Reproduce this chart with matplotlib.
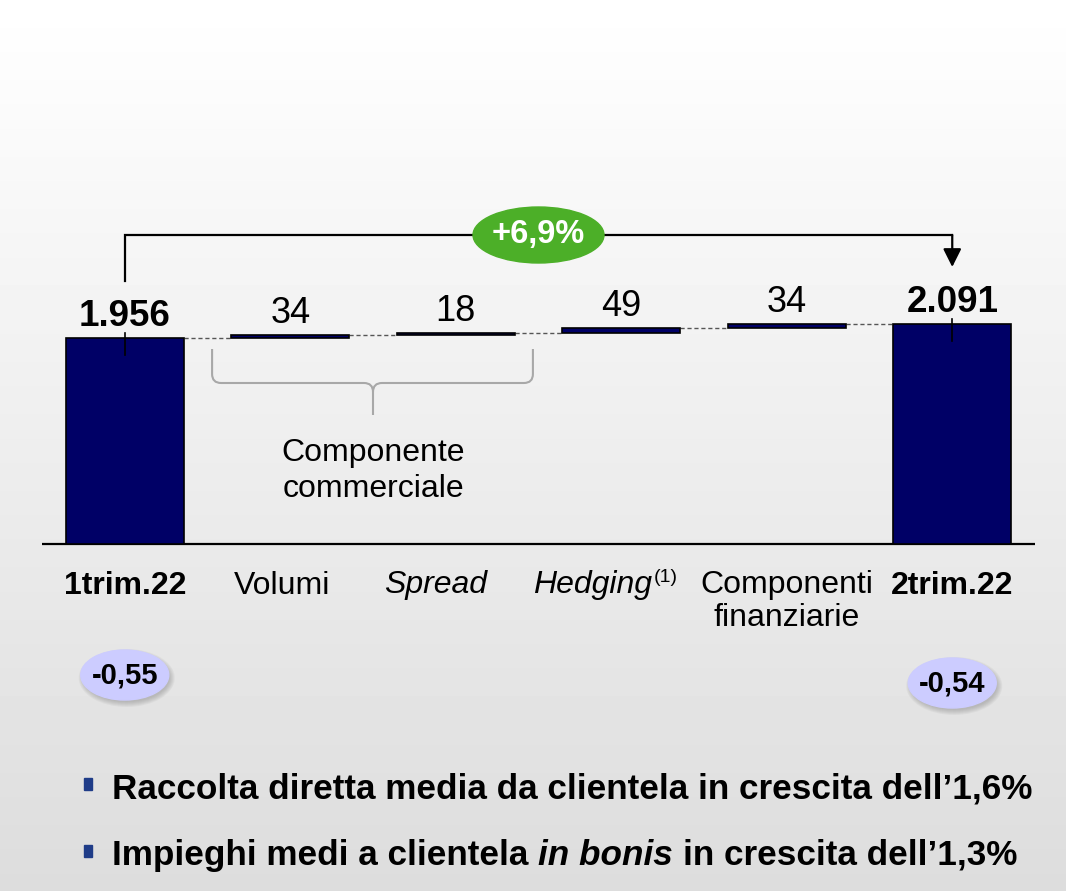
import numpy as np
import matplotlib
matplotlib.use("Agg")
import matplotlib.pyplot as plt
from matplotlib.patches import Ellipse, PathPatch, Rectangle
from matplotlib.path import Path

plt.rcParams["font.family"] = ["Liberation Sans", "DejaVu Sans"]

# ---- data ----
categories = ["1trim.22", "Volumi", "Spread", "Hedging", "Componenti\nfinanziarie", "2trim.22"]
values = [1956, 34, 18, 49, 34, 2091]
value_labels = ["1.956", "34", "18", "49", "34", "2.091"]
totals = [True, False, False, False, False, True]
growth_label = "+6,9%"
rate_labels = ["-0,55", "-0,54"]
group_label = "Componente\ncommerciale"
footnote_mark = "(1)"
bullet_1 = "Raccolta diretta media da clientela in crescita dell\u20191,6%"
bullet_2 = [("Impieghi medi a clientela", "normal"),
            ("in bonis", "italic"),
            ("in crescita dell\u20191,3%", "normal")]

# ---- layout / style ----
W, H = 1066, 891
NAVY = "#000066"
BASE_PX = 543.5          # pixel row of the zero line
KY = 0.105               # pixels per unit
KX = (1035 - 42) / 6.0   # pixels per category
BAR_W = 0.715
cat_nudge = [0, -8, -20, -29, 0, 0]
cat_weight = ["bold", "normal", "normal", "normal", "normal", "bold"]
cat_style = ["normal", "normal", "italic", "italic", "normal", "normal"]
rate_y_px = [675, 683]


def dy(px):
    return px / KY


def dx(px):
    return px / KX


fig = plt.figure(figsize=(W / 100, H / 100), dpi=100)

# background gradient (pixel coordinates)
bg = fig.add_axes([0, 0, 1, 1])
bg.set_xlim(0, W)
bg.set_ylim(H, 0)
bg.axis("off")
grad = np.linspace(1.0, 0.865, 256).reshape(-1, 1)
bg.imshow(grad, cmap="gray", vmin=0, vmax=1, extent=(0, W, H, 0), aspect="auto")

# main chart axes
ax = fig.add_axes([42 / W, 0, (1035 - 42) / W, 1])
ax.set_xlim(-0.5, 5.5)
ax.set_ylim(-(H - BASE_PX) / KY, BASE_PX / KY)
ax.patch.set_visible(False)
for s in ax.spines.values():
    s.set_visible(False)
ax.set_xticks([])
ax.set_yticks([])
ax.axhline(0, color="black", lw=1.6, zorder=2)

x = np.arange(len(values))
bottoms, tops = [], []
level = 0
for v, tot in zip(values, totals):
    if tot:
        b = 0
        level = v
    else:
        b = level
        level += v
    bottoms.append(b)
    tops.append(b + v)
heights = np.array(tops) - np.array(bottoms)
ax.bar(x, heights, bottom=bottoms, width=BAR_W, color=NAVY,
       edgecolor="black", lw=1.2, zorder=3)

# dashed connectors
for i in range(len(values) - 1):
    ax.plot([i + BAR_W / 2, i + 1 - BAR_W / 2], [tops[i], tops[i]],
            ls=(0, (3, 2)), color="#555555", lw=1, zorder=2)

# value labels
for i, lbl in enumerate(value_labels):
    ax.annotate(lbl, (i, tops[i]), xytext=(0, 12), textcoords="offset pixels",
                ha="center", va="baseline", fontsize=26.5 if totals[i] else 26,
                fontweight="bold" if totals[i] else "normal", zorder=6)
    if totals[i]:
        ax.plot([i, i], [tops[i] + dy(5), tops[i] - dy(17)], color="black",
                lw=1.2, zorder=4)

# growth bracket
y_line = dy(BASE_PX - 235)
ax.plot([0, 0, 5], [dy(BASE_PX - 281), y_line, y_line], color="black", lw=1.6,
        solid_joinstyle="miter", zorder=4)
ax.annotate("", xy=(5, dy(BASE_PX - 267)), xytext=(5, y_line),
            arrowprops=dict(arrowstyle="-|>,head_length=1.1,head_width=0.55",
                            color="black", lw=1.6, shrinkA=0, shrinkB=0),
            zorder=4)
ax.add_patch(Ellipse((2.5, y_line), dx(131), dy(56), color="#4caf28", zorder=5))
ax.text(2.5, y_line, growth_label, ha="center", va="center", color="white",
        fontsize=23.5, fontweight="bold", zorder=6)

# brace under the commercial components
xl = 1 - BAR_W / 2 - dx(19)
xr = 2 + BAR_W / 2 + dx(18)
xc = 1.5
y0, ym, yt = dy(BASE_PX - 349), dy(BASE_PX - 383), dy(BASE_PX - 415)
rx, ry = dx(9), dy(9)
verts, codes = [], []
for xe, sgn in [(xl, 1), (xr, -1)]:
    verts += [(xe, y0), (xe, ym + ry), (xe, ym), (xe + sgn * rx, ym),
              (xc - sgn * rx, ym), (xc, ym), (xc, ym - ry)]
    codes += [Path.MOVETO, Path.LINETO, Path.CURVE3, Path.CURVE3,
              Path.LINETO, Path.CURVE3, Path.CURVE3]
verts += [(xc, ym - ry), (xc, yt)]
codes += [Path.MOVETO, Path.LINETO]
ax.add_patch(PathPatch(Path(verts, codes), fill=False, edgecolor="#a8a8a8",
                       lw=1.5, zorder=2))
ax.text(xc, dy(BASE_PX - 471), group_label, ha="center", va="center",
        fontsize=23, linespacing=1.25)

# category labels
cat_texts = []
for i, cat in enumerate(categories):
    t = ax.annotate(cat, (i, 0), xytext=(cat_nudge[i], -27),
                    textcoords="offset pixels", ha="center", va="top",
                    fontsize=23, fontweight=cat_weight[i], fontstyle=cat_style[i],
                    linespacing=1.12)
    cat_texts.append(t)
ax.annotate(footnote_mark, xy=(1, 1), xycoords=cat_texts[3], xytext=(2, 2),
            textcoords="offset pixels", ha="left", va="top", fontsize=14)

# rate bubbles with a soft shadow
for i, lbl, ypx in zip([0, 5], rate_labels, rate_y_px):
    yc = dy(BASE_PX - ypx)
    for grow in range(6):
        ax.add_patch(Ellipse((i + dx(2), yc - dy(3)), dx(86 + 2 * grow),
                             dy(48 + 2 * grow), color="#707070", alpha=0.07,
                             lw=0, zorder=3))
    ax.add_patch(Ellipse((i, yc), dx(88), dy(50), color="#ccccff", zorder=4))
    ax.text(i, yc, lbl, ha="center", va="center", fontsize=21,
            fontweight="bold", zorder=5)

# bullets
for ycen in [784, 851]:
    bg.add_patch(Rectangle((84, ycen - 6), 8, 12, color="#1f3c88", zorder=3))
bg.text(112, 798, bullet_1, fontsize=25.3, fontweight="bold", va="baseline")

renderer = fig.canvas.get_renderer()
space = 25.3 * 100 / 72 * 0.278
xpos = 112
for piece, style in bullet_2:
    t = bg.text(xpos, 865, piece, fontsize=25.3, fontweight="bold",
                fontstyle=style, va="baseline")
    xpos += t.get_window_extent(renderer).width + space

fig.savefig("out.png", dpi=100)
